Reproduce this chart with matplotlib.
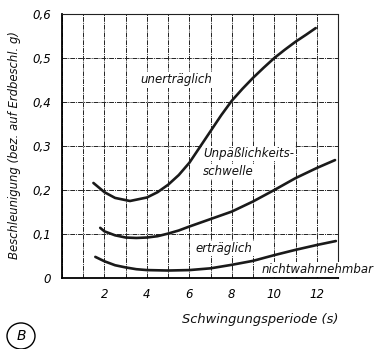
import matplotlib
matplotlib.use("Agg")
import matplotlib.pyplot as plt
from matplotlib.patches import Circle

# data
upper_x = [1.48, 2.0, 2.5, 3.2, 4.0, 4.5, 5.0, 5.5, 6.0, 6.5, 7.0, 7.5, 8.0, 8.5, 9.0, 9.5, 10.0, 10.5, 11.0, 11.5, 11.95]
upper_y = [0.216, 0.195, 0.182, 0.175, 0.183, 0.195, 0.212, 0.234, 0.262, 0.298, 0.334, 0.370, 0.403, 0.430, 0.455, 0.478, 0.500, 0.519, 0.537, 0.553, 0.568]

mid_x = [1.8, 2.0, 2.5, 3.0, 3.5, 4.0, 4.5, 5.0, 5.5, 6.0, 7.0, 8.0, 9.0, 10.0, 11.0, 12.0, 12.86]
mid_y = [0.114, 0.106, 0.097, 0.092, 0.091, 0.092, 0.095, 0.101, 0.108, 0.117, 0.134, 0.151, 0.174, 0.200, 0.227, 0.250, 0.268]

low_x = [1.57, 2.0, 2.5, 3.0, 3.5, 4.0, 5.0, 6.0, 7.0, 8.0, 9.0, 10.0, 11.0, 12.0, 12.9]
low_y = [0.048, 0.038, 0.029, 0.024, 0.020, 0.018, 0.017, 0.018, 0.022, 0.030, 0.039, 0.052, 0.064, 0.075, 0.084]

x_ticks = [2, 4, 6, 8, 10, 12]
y_ticks = [0, 0.1, 0.2, 0.3, 0.4, 0.5, 0.6]
y_tick_labels = ["0", "0,1", "0,2", "0,3", "0,4", "0,5", "0,6"]

plt.rcParams['font.family'] = ['DejaVu Sans']
fs = 8.5
fig = plt.figure(figsize=(3.75, 3.49), dpi=100)
ax = fig.add_axes([62/375, 1-278/349, (338-62)/375, (278-14)/349])

ax.set_xlim(0, 13)
ax.set_ylim(0, 0.6)

ax.set_xticks(x_ticks)
ax.set_xticklabels([str(v) for v in x_ticks], fontsize=fs, style='italic')
ax.set_xticks(range(0, 14), minor=True)
ax.set_yticks(y_ticks)
ax.set_yticklabels(y_tick_labels, fontsize=fs, style='italic')
ax.tick_params(axis='x', which='both', length=0, pad=7)
ax.tick_params(axis='y', which='both', length=0, pad=8)

gkw = dict(color='#222222', lw=0.7, ls=(0, (5, 1, 1, 1)))
ax.grid(True, which='both', axis='x', **gkw)
ax.grid(True, which='major', axis='y', **gkw)
ax.set_axisbelow(True)

for s in ['top', 'right']:
    ax.spines[s].set_linewidth(0.8)
    ax.spines[s].set_linestyle((0, (5, 1, 1, 1)))
    ax.spines[s].set_color('#222222')
for s in ['left', 'bottom']:
    ax.spines[s].set_linewidth(1.3)
    ax.spines[s].set_color('black')

for xs, ys in [(upper_x, upper_y), (mid_x, mid_y), (low_x, low_y)]:
    ax.plot(xs, ys, color='#1a1a1a', lw=1.9, solid_capstyle='round')

tkw = dict(fontsize=fs, style='italic', color='#111111')
bb = dict(facecolor='white', edgecolor='none', pad=0.8)
ax.text(5.38, 0.45, "unerträglich", ha='center', va='center', bbox=bb, **tkw)
ax.text(6.65, 0.282, "Unpäßlichkeits-", ha='left', va='center', bbox=bb, **tkw)
ax.text(6.65, 0.242, "schwelle", ha='left', va='center', bbox=bb, **tkw)
ax.text(6.3, 0.068, "erträglich", ha='left', va='center', bbox=bb, **tkw)
ax.text(9.4, 0.02, "nichtwahrnehmbar", ha='left', va='center', bbox=bb,
        clip_on=False, **tkw)

fig.text(15/375, 1-145/349, "Beschleunigung (bez. auf Erdbeschl. g)", rotation=90,
         ha='center', va='center', fontsize=8.4, style='italic', color='#111111')
fig.text(260/375, 1-320/349, "Schwingungsperiode (s)", ha='center', va='center',
         fontsize=9.4, style='italic', color='#111111')

circ = Circle((21/375, 1-336/349), 14/375, transform=fig.transFigure,
              fill=False, edgecolor='black', lw=1.0)
fig.patches.append(circ)
fig.text(21/375, 1-336/349, "B", ha='center', va='center', fontsize=10, style='italic')

fig.savefig("out.png", dpi=100, facecolor='white')
